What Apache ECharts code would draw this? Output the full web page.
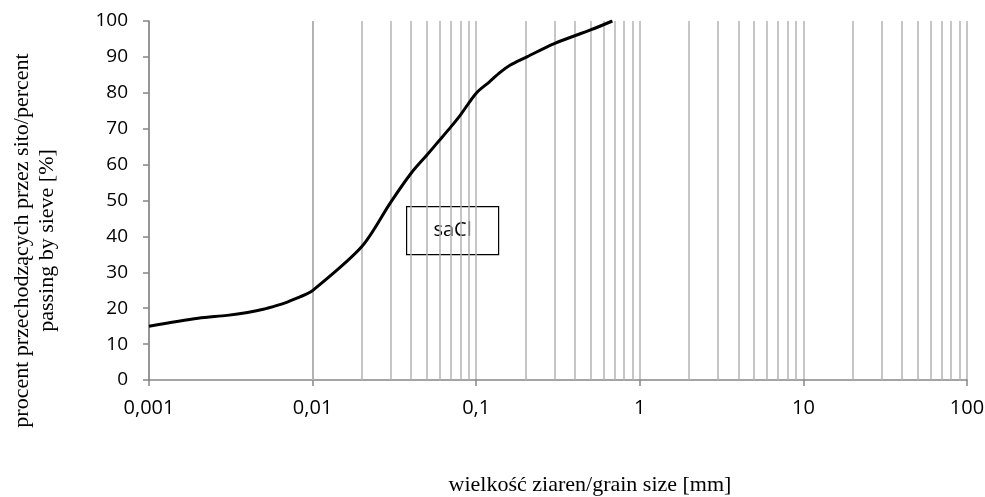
<!DOCTYPE html>
<html><head><meta charset="utf-8">
<script src="https://cdn.jsdelivr.net/npm/echarts@6/dist/echarts.min.js"></script>
<style>html,body{margin:0;padding:0;background:#fff;overflow:hidden}#c{width:985px;height:497px}</style>
</head><body><div id="c"></div>
<script>
const grainSize = [0.001,0.002,0.003,0.004,0.005,0.006,0.007,0.008,0.009,0.01,0.02,0.03,0.04,0.05,0.06,0.07,0.08,0.1,0.12,0.14,0.16,0.2,0.3,0.5,0.68];
const passing   = [15.0,17.2,18.0,18.8,19.7,20.7,21.7,22.8,23.8,24.9,37.2,49.5,57.6,62.7,66.9,70.5,73.8,79.9,83.0,85.7,87.6,89.8,93.7,97.5,100];
const minorGrid = [0.002,0.003,0.004,0.005,0.006,0.007,0.008,0.009,0.02,0.03,0.04,0.05,0.06,0.07,0.08,0.09,0.2,0.3,0.4,0.5,0.6,0.7,0.8,0.9,2,3,4,5,6,7,8,9,20,30,40,50,60,70,80,90];
const yTicks = [0,100,10];
const sampleLabel = 'saCl';

const chart = echarts.init(document.getElementById('c'));
chart.setOption({
  animation:false,
  grid:{left:149,right:18,top:21,bottom:117,outerBoundsMode:'none',containLabel:false},
  xAxis:{
    type:'log', logBase:10, min:0.001, max:100,
    name:'wielkość ziaren/grain size [mm]', nameLocation:'middle', nameGap:94,
    nameTextStyle:{fontFamily:'Liberation Serif', fontSize:22, color:'#000', padding:[0,0,0,64]},
    axisLine:{lineStyle:{color:'#868686', width:1.5}},
    axisTick:{show:true, inside:false, length:6, lineStyle:{color:'#868686', width:1.5}},
    axisLabel:{fontFamily:'Open Sans', fontSize:20, color:'#000', margin:18,
      formatter:v=>String(v).replace('.',',')},
    splitLine:{show:true, lineStyle:{color:'#b3b3b3', width:1.5}},
    minorTick:{show:false}
  },
  yAxis:{
    type:'value', min:yTicks[0], max:yTicks[1], interval:yTicks[2],
    name:'procent przechodzących przez sito/percent\npassing by sieve [%]', nameLocation:'middle', nameGap:89, nameRotate:90,
    nameTextStyle:{fontFamily:'Liberation Serif', fontSize:22, color:'#000', lineHeight:25, align:'center', padding:[0,80,0,0]},
    axisLine:{show:true, lineStyle:{color:'#868686', width:1.5}},
    axisTick:{show:true, inside:false, length:6, lineStyle:{color:'#868686', width:1.5}},
    axisLabel:{fontFamily:'Open Sans', fontSize:19, color:'#000', margin:21},
    splitLine:{show:false}
  },
  series:[{
    type:'line', data:grainSize.map((d,i)=>[d,passing[i]]),
    smooth:0.3, showSymbol:false, lineStyle:{color:'#000', width:3},
    z:5,
    markLine:{silent:true, symbol:['none','none'], label:{show:false},
      lineStyle:{color:'#b3b3b3', width:1.5, type:'solid'},
      data:minorGrid.map(v=>({xAxis:v}))}
  }],
  graphic:[{
    type:'group', left:406, top:206,
    children:[
      {type:'rect', shape:{x:0,y:0,width:92,height:48}, style:{fill:'#fff', stroke:'#000', lineWidth:1.2}},
      {type:'text', x:46, y:24, style:{text:sampleLabel, fontFamily:'Open Sans', fontSize:20, fill:'#000', align:'center', verticalAlign:'middle'}}
    ]
  }]
});
</script></body></html>
